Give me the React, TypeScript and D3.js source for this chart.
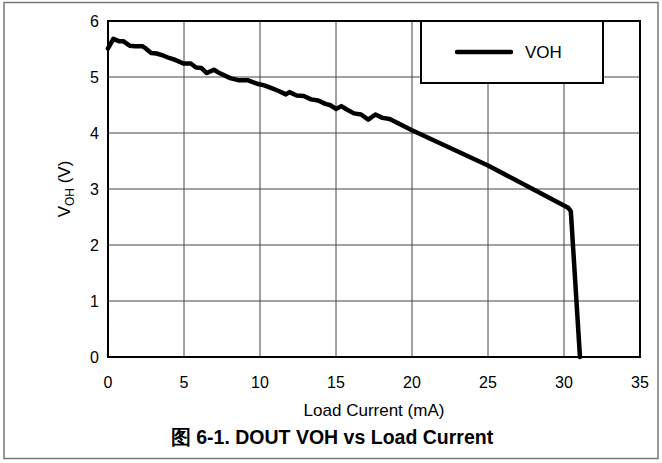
import * as d3 from "d3";

const current = [
  0, 0.35, 0.71, 1.0, 1.42, 1.77, 2.25, 2.48, 2.84, 3.19, 3.66, 4.02, 4.37,
  4.96, 5.44, 5.79, 6.15, 6.5, 6.97, 7.33, 8.04, 8.63, 9.22, 9.81, 10.28,
  10.76, 11.23, 11.7, 11.94, 12.41, 12.88, 13.36, 13.83, 14.3, 14.6, 15.0,
  15.35, 15.71, 16.18, 16.65, 17.12, 17.59, 18.06, 18.53, 20, 25, 28, 30.3,
  30.45, 31.05,
];
const voh = [
  5.51, 5.68, 5.64, 5.64, 5.56, 5.55, 5.55, 5.51, 5.43, 5.42, 5.38, 5.34,
  5.31, 5.24, 5.24, 5.17, 5.16, 5.07, 5.13, 5.07, 4.98, 4.94, 4.94, 4.88,
  4.85, 4.8, 4.75, 4.69, 4.73, 4.67, 4.66, 4.6, 4.58, 4.52, 4.5, 4.43,
  4.48, 4.42, 4.35, 4.33, 4.24, 4.33, 4.27, 4.25, 4.05, 3.42, 2.99, 2.66,
  2.6, 0,
];
const xTicks = [0, 5, 10, 15, 20, 25, 30, 35];
const yTicks = [0, 1, 2, 3, 4, 5, 6];
const seriesName = "VOH";

const W = 662;
const H = 463;
const plot = { left: 108, right: 640, top: 21, bottom: 357 };
const font = "Liberation Sans, Arial, sans-serif";

export default function App() {
  const x = d3.scaleLinear().domain([0, 35]).range([plot.left, plot.right]);
  const y = d3.scaleLinear().domain([0, 6]).range([plot.bottom, plot.top]);

  const points = current.map((c, i) => [c, voh[i]] as [number, number]);
  const line = d3
    .line<[number, number]>()
    .x((d) => x(d[0]))
    .y((d) => y(d[1]));

  return (
    <svg
      width={W}
      height={H}
      style={{ position: "absolute", left: 0, top: 0, background: "#fff" }}
      fontFamily={font}
    >
      <rect x={4} y={2.5} width={654} height={456} fill="#fff" stroke="#777" strokeWidth={1.5} />

      {/* grid */}
      {xTicks.slice(1, -1).map((t) => (
        <line key={"gx" + t} x1={x(t)} x2={x(t)} y1={plot.top} y2={plot.bottom} stroke="#444" strokeWidth={1} />
      ))}
      {yTicks.slice(1, -1).map((t) => (
        <line key={"gy" + t} x1={plot.left} x2={plot.right} y1={y(t)} y2={y(t)} stroke="#444" strokeWidth={1} />
      ))}

      <rect
        x={plot.left}
        y={plot.top}
        width={plot.right - plot.left}
        height={plot.bottom - plot.top}
        fill="none"
        stroke="#000"
        strokeWidth={2}
      />

      {/* tick labels */}
      {xTicks.map((t) => (
        <text key={"tx" + t} x={x(t)} y={plot.bottom + 31} textAnchor="middle" fontSize={16}>
          {t}
        </text>
      ))}
      {yTicks.map((t) => (
        <text key={"ty" + t} x={plot.left - 9} y={y(t) + 6} textAnchor="end" fontSize={16}>
          {t}
        </text>
      ))}

      <text x={(plot.left + plot.right) / 2} y={plot.bottom + 59} textAnchor="middle" fontSize={17}>
        Load Current (mA)
      </text>
      <text
        transform={`translate(70,${(plot.top + plot.bottom) / 2}) rotate(-90)`}
        textAnchor="middle"
        fontSize={17}
      >
        V<tspan fontSize={12} dy={4}>OH</tspan>
        <tspan dy={-4}> (V)</tspan>
      </text>

      <path d={line(points) ?? ""} fill="none" stroke="#000" strokeWidth={4.5} strokeLinejoin="round" strokeLinecap="round" />

      {/* legend */}
      <rect x={421} y={plot.top} width={182} height={62} fill="#fff" stroke="#000" strokeWidth={2} />
      <line x1={457} x2={511} y1={52} y2={52} stroke="#000" strokeWidth={4.5} strokeLinecap="round" />
      <text x={525} y={58} fontSize={17}>
        {seriesName}
      </text>

      <text x={332} y={444} textAnchor="middle" fontSize={19.5} fontWeight="bold">
        图 6-1. DOUT VOH vs Load Current
      </text>
    </svg>
  );
}
